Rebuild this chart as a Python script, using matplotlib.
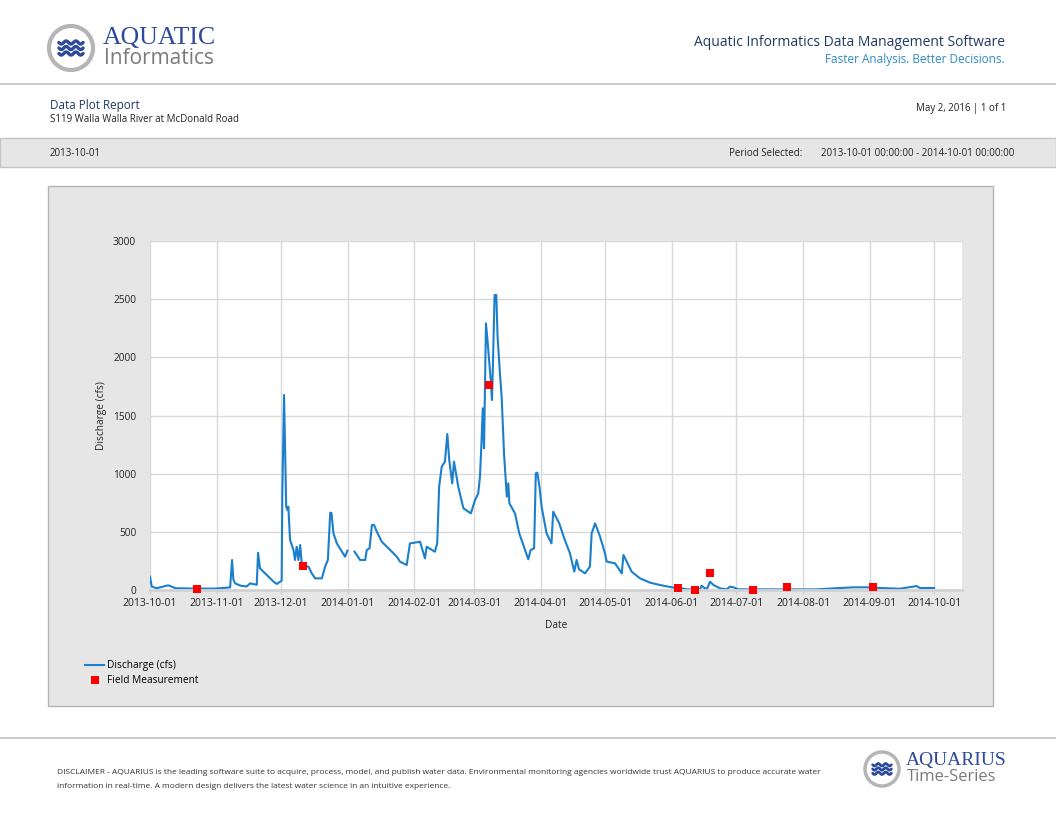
import matplotlib
matplotlib.use("Agg")
import matplotlib.pyplot as plt
import matplotlib.dates as mdates
import matplotlib.patches as mpatches
import numpy as np
import pandas as pd

# ---- data (days after 2013-10-01, discharge in cfs) ----
start = pd.Timestamp("2013-10-01")

day_offset = [0, 0.8, 3, 8.5, 12, 21.7, 30, 37.3, 38.2, 38.8, 39.6, 42, 45, 46.6, 49.7, 50.3,
              51.2, 54.3, 57.5, 59, 61.3, 61.6, 62.4, 63.4, 64, 64.4, 65.2, 66.8,
              67.5, 68.3, 69.1, 69.9, 70.7, 71.4, 73.8, 75.3, 76.9, 80, 81.5, 82.8,
              83.9, 84.5, 85.4, 87, 89.3, 90.8, 91.9, 93.5, 95.2, 97.8, 100.2, 100.9,
              102.2, 103.3, 104.3, 105.6, 107.9, 111.8, 114.9, 116.4, 119.5, 121,
              125.7, 128, 128.8, 132.6, 133.7, 134.6, 135.8, 137.3, 138.4, 139.3,
              140.7, 141.5, 143.5, 145.9, 149.4, 151.3, 152.8, 153.6, 154.3, 154.9,
              155.5, 155.8, 156.4, 157.1, 158, 158.6, 159.2, 159.7, 160.4, 161.2,
              161.8, 162.9, 163.7, 164.8, 166.1, 166.8, 167.3, 169.9, 171.9, 173.8,
              176.1, 177.2, 178.8, 179.6, 180.3, 181.3, 182.3, 184.6, 186.9, 187.7,
              188.9, 190.5, 193.1, 195.5, 197.5, 198.6, 199.7, 202.5, 204.8, 205.6,
              207.2, 209.5, 211.8, 212.6, 216.5, 219.6, 220.4, 224.2, 228.1, 232.8,
              237.4, 242.9, 245.6, 249.8, 253.6, 256, 256.8, 258.3, 259.4, 260.7,
              262.3, 265.4, 268.5, 270, 271.6, 273.9, 290, 310, 318.1, 327.4, 333.6,
              339.8, 349.1, 356.9, 358.4, 365]

discharge = [115, 30, 15, 40, 15, 12, 12, 22, 258, 90, 57, 38, 30, 57, 45, 320,
             186, 130, 72, 52, 80, 830, 1676, 716, 688, 716, 430, 344,
             258, 372, 258, 387, 215, 209, 200, 143, 100, 100, 200, 258,
             665, 660, 487, 400, 330, 286, 338, np.nan, 330, 258, 258, 344,
             358, 559, 559, 501, 415, 344, 286, 243, 215, 400,
             415, 272, 372, 329, 401, 888, 1060, 1103, 1341, 1117,
             917, 1103, 888, 702, 659, 773, 831, 974, 1261, 1562,
             1218, 1576, 2292, 2149, 1948, 1805, 1633, 1977, 2536, 2536,
             2178, 1862, 1662, 1175, 802, 917, 745, 659, 487, 387,
             264, 344, 358, 1003, 1009, 888, 716, 487, 401, 673,
             630, 573, 430, 315, 158, 258, 178, 143, 201, 487,
             573, 459, 315, 244, 229, 143, 301, 158, 100, 63,
             43, 23, 20, 6, 4, 6, 37, 14, 14, 72,
             43, 14, 6, 29, 23, 6, 5, 5, 14, 23, 23,
             17, 11, 34, 17, 17]

fm_offset = [21.7, 71.4, 157.8, 245.6, 253.6, 260.7, 280.7, 296.6, 336.8]
fm_value = [12, 209, 1762, 20, 2, 143, 2, 30, 25]

month_ticks = pd.date_range("2013-10-01", "2014-10-01", freq="MS")
y_ticks = [0, 500, 1000, 1500, 2000, 2500, 3000]

dates = start + pd.to_timedelta(day_offset, unit="D")
fm_dates = start + pd.to_timedelta(fm_offset, unit="D")

W, H = 1056, 816
FONT = "Open Sans"
NAVY = "#1f3a64"
LOGO_BLUE = "#2d4a9a"
TXT = "#222222"

fig = plt.figure(figsize=(W / 100, H / 100), dpi=100)
fig.patch.set_facecolor("white")

# background axes in pixel coordinates for the report decoration
bg = fig.add_axes([0, 0, 1, 1], zorder=0)
bg.set_xlim(0, W)
bg.set_ylim(H, 0)
bg.axis("off")


def logo(ax, cx, cy, r, lw):
    ax.add_patch(mpatches.Circle((cx, cy), r, facecolor="white", edgecolor="#b5b5b5", lw=lw))
    t = np.linspace(0, 1, 60)
    for dy in (-r * 0.25, 0, r * 0.25):
        xs = cx - r * 0.55 + t * r * 1.1
        ys = cy + dy + np.sin(t * 2 * np.pi * 2.5) * r * 0.07
        ax.plot(xs, ys, color=LOGO_BLUE, lw=lw * 0.8, solid_capstyle="round")


# header
logo(bg, 71, 48, 22, 3)
bg.text(103, 38, "AQUATIC", family="Liberation Serif", fontsize=18.5, color=LOGO_BLUE, va="center")
bg.text(104, 59, "Informatics", family=FONT, fontsize=15, color="#7a7a7a", va="center")
bg.text(1005, 42, "Aquatic Informatics Data Management Software", family=FONT, fontsize=10,
        color=NAVY, ha="right", va="center")
bg.text(1005, 60, "Faster Analysis. Better Decisions.", family=FONT, fontsize=8.5,
        color="#2f89c5", ha="right", va="center")
bg.plot([0, W], [84, 84], color="#c4c4c4", lw=1.2)

bg.text(50, 105, "Data Plot Report", family=FONT, fontsize=8.4, color=NAVY, va="center")
bg.text(50, 120, "S119 Walla Walla River at McDonald Road", family=FONT, fontsize=7,
        color=TXT, va="center")
bg.text(1006, 108, "May 2, 2016 | 1 of 1", family=FONT, fontsize=7, color=TXT,
        ha="right", va="center")

bg.add_patch(mpatches.Rectangle((0, 138), W, 29, facecolor="#e6e6e6", edgecolor="#c4c4c4", lw=1))
bg.text(50, 153, "2013-10-01", family=FONT, fontsize=7, color=TXT, va="center")
bg.text(729, 153, "Period Selected:", family=FONT, fontsize=7, color=TXT, va="center")
bg.text(1014, 153, "2013-10-01 00:00:00 - 2014-10-01 00:00:00", family=FONT, fontsize=7,
        color=TXT, ha="right", va="center")

# chart panel
bg.add_patch(mpatches.Rectangle((48, 186), 945, 520, facecolor="#e6e6e6", edgecolor="#b4b4b4", lw=1))

# footer
bg.plot([0, W], [738, 738], color="#c4c4c4", lw=1.2)
bg.text(57, 773, "DISCLAIMER - AQUARIUS is the leading software suite to acquire, process, model, "
        "and publish water data. Environmental monitoring agencies worldwide trust AQUARIUS "
        "to produce accurate water", family=FONT, fontsize=6, color="#333333", va="center")
bg.text(57, 786, "information in real-time. A modern design delivers the latest water science "
        "in an intuitive experience.", family=FONT, fontsize=6, color="#333333", va="center")
logo(bg, 882, 769, 17, 2.5)
bg.text(906, 760, "AQUARIUS", family="Liberation Serif", fontsize=14, color=LOGO_BLUE, va="center")
bg.text(907, 777, "Time-Series", family=FONT, fontsize=12, color="#7a7a7a", va="center")

# ---- the plot ----
ax = fig.add_axes([150 / W, 1 - 590 / H, 812 / W, 349 / H], zorder=2)
ax.set_facecolor("white")
line, = ax.plot(dates, discharge, color="#1b7fcc", lw=1.5, label="Discharge (cfs)")
pts, = ax.plot(fm_dates, fm_value, linestyle="none", marker="s", markersize=5.2, mew=0,
               color="#ff0000", label="Field Measurement", clip_on=False, zorder=5)

ax.set_xlim(start, start + pd.Timedelta(days=378))
ax.set_ylim(0, 3000)
ax.set_xticks(month_ticks)
ax.xaxis.set_major_formatter(mdates.DateFormatter("%Y-%m-%d"))
ax.set_yticks(y_ticks)
ax.grid(True, color="#d9d9d9", lw=1)
ax.set_axisbelow(True)
for s in ("top", "right", "left"):
    ax.spines[s].set_visible(False)
ax.spines["bottom"].set_color("#d2d2d2")
ax.spines["bottom"].set_linewidth(2)
ax.tick_params(axis="x", length=3, color="#c8c8c8", labelsize=7.5, pad=3)
ax.tick_params(axis="y", length=0, labelsize=7.3, pad=10)
for lab in ax.get_xticklabels() + ax.get_yticklabels():
    lab.set_family(FONT)
    lab.set_color(TXT)
ax.set_xlabel("Date", family=FONT, fontsize=7.3, color=TXT, labelpad=8)
ax.set_ylabel("Discharge (cfs)", family=FONT, fontsize=7.3, color=TXT, labelpad=4)

ax.legend(handles=[line, pts], loc="upper left", bbox_to_anchor=(76 / W, 1 - 651 / H),
          bbox_transform=fig.transFigure, frameon=False, handlelength=1.9,
          handletextpad=0.3, labelspacing=0.4, prop={"family": FONT, "size": 7.3})

fig.savefig("out.png", dpi=100, facecolor="white")
